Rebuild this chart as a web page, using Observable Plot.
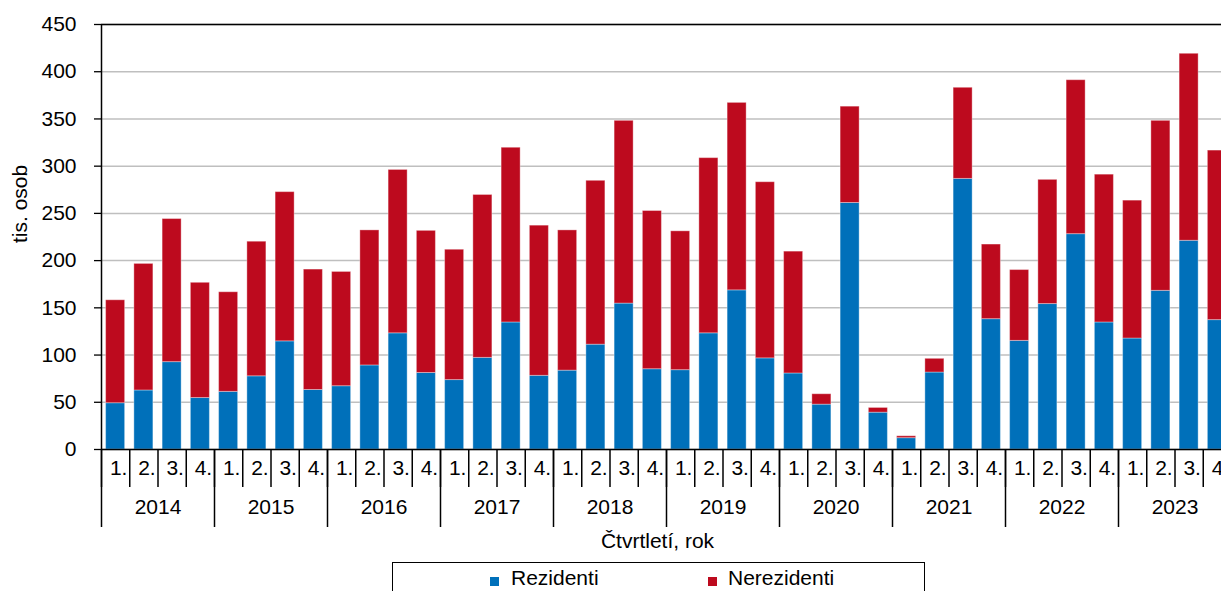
<!DOCTYPE html>
<html>
<head>
<meta charset="utf-8">
<script src="https://cdn.jsdelivr.net/npm/d3@7"></script>
<script src="https://cdn.jsdelivr.net/npm/@observablehq/plot@0.6"></script>
<style>
  html, body { margin: 0; padding: 0; background: #fff; overflow: hidden; }
  #wrap { position: relative; width: 1221px; height: 591px; overflow: hidden; font-family: 'Liberation Sans', Arial, sans-serif; }
  #chart { position: absolute; left: 0; top: 0; width: 1240px; }
  #chart svg { max-width: none !important; height: auto; display: block; }
  .legend { position: absolute; left: 392px; top: 562px; width: 533px; height: 50px; border: 1px solid #000; box-sizing: border-box; }
  .legend .sw { position: absolute; width: 9px; height: 9px; top: 14px; }
  .legend .lb { position: absolute; top: 4px; font-size: 21px; line-height: 22px; color: #000; white-space: nowrap; }
</style>
</head>
<body>
<div id="wrap">
  <div id="chart"></div>
  <div class="legend" id="legend"></div>
</div>
<script>
const years = [2014, 2015, 2016, 2017, 2018, 2019, 2020, 2021, 2022, 2023];
const quarters = ["1.", "2.", "3.", "4."];
const seriesNames = ["Rezidenti", "Nerezidenti"];
const residents = [
  49, 62.5, 92.5, 54.5,
  61, 77.5, 114.5, 63,
  67, 89, 123, 81,
  73.5, 97, 134.5, 78,
  83.5, 111, 154.5, 85,
  84, 123, 168.5, 96.5,
  80.5, 47.5, 261, 39,
  12, 81.5, 286.5, 138,
  115, 154, 228, 134.5,
  117.5, 168, 221, 137
];
const nonresidents = [
  109, 134, 151.5, 122,
  105.5, 142.5, 158, 127.5,
  121, 143, 173, 150.5,
  138, 172.5, 185, 159,
  148.5, 173.5, 193.5, 167.5,
  147, 185.5, 198.5, 186.5,
  129, 11, 102, 5,
  2, 14.5, 96.5, 79,
  75, 131.5, 163, 156.5,
  146, 180, 198, 179.5
];
const yTicks = [0, 50, 100, 150, 200, 250, 300, 350, 400, 450];
const yLabel = "tis. osob";
const xLabel = "Čtvrtletí, rok";
const colors = ["#0070BA", "#BD0A1E"];

// build table
const periods = [];
years.forEach(y => quarters.forEach(q => periods.push({year: y, q, key: y + "-" + q})));
const keys = periods.map(p => p.key);
const rows = [];
periods.forEach((p, i) => {
  rows.push({key: p.key, series: seriesNames[0], value: residents[i]});
  rows.push({key: p.key, series: seriesNames[1], value: nonresidents[i]});
});
const yearFirstKeys = periods.filter(p => p.q === quarters[0]).map(p => p.key);
const yearLabelRows = periods.filter(p => p.q === quarters[1]);

const W = 1231, H = 560, ML = 101, MR = 0, MT = 24, MB = 111;
const step = (W - ML - MR) / keys.length;
const font = "'Liberation Sans', Arial, sans-serif";
const FS = 21;

const chart = Plot.plot({
  width: W, height: H,
  marginLeft: ML, marginRight: MR, marginTop: MT, marginBottom: MB,
  style: {fontFamily: font, fontSize: FS + "px", color: "#000", background: "transparent", maxWidth: "none"},
  x: {type: "band", domain: keys, paddingInner: 0.327, paddingOuter: 0.1635, round: false, axis: null},
  y: {domain: [0, 450], axis: null},
  color: {domain: seriesNames, range: colors},
  marks: [
    Plot.gridY(yTicks, {stroke: "#bfbfbf", strokeOpacity: 1, strokeWidth: 1.5}),
    Plot.barY(rows, {x: "key", y: "value", fill: "series", stroke: "#ffffff", strokeOpacity: 0.35, strokeWidth: 1}),
    Plot.ruleY([450], {stroke: "#000", strokeWidth: 1.5}),
    Plot.ruleY([0], {stroke: "#000", strokeWidth: 1.5}),
    Plot.ruleX([keys[0]], {dx: -step / 2, stroke: "#000", strokeWidth: 1.5}),
    Plot.axisY(yTicks, {tickSize: 7, tickPadding: 18, label: null, fontSize: FS, stroke: "#000", strokeWidth: 1.3}),
    Plot.axisX(keys, {tickSize: 38, tickFormat: () => "", dx: -step / 2, label: null, stroke: "#000", strokeWidth: 1.5}),
    Plot.axisX(yearFirstKeys, {tickSize: 78, tickFormat: () => "", dx: -step / 2, label: null, stroke: "#000", strokeWidth: 1.5}),
    Plot.text(periods, {x: "key", text: "q", frameAnchor: "bottom", dy: 25, dx: 3, fontSize: FS, fill: "#000"}),
    Plot.text(yearLabelRows, {x: "key", text: d => String(d.year), frameAnchor: "bottom", dy: 64, dx: step / 2, fontSize: FS, fill: "#000"}),
    Plot.text([xLabel], {frameAnchor: "bottom", dy: 98, dx: -9, fontSize: FS, fill: "#000"}),
    Plot.text([yLabel], {frameAnchor: "left", rotate: -90, dx: -81, dy: 6, fontSize: FS, fill: "#000"})
  ]
});
document.getElementById("chart").appendChild(chart);

// legend
const legend = document.getElementById("legend");
const legendPos = [{sw: 97, lb: 118}, {sw: 315, lb: 335}];
seriesNames.forEach((name, i) => {
  const sw = document.createElement("div");
  sw.className = "sw";
  sw.style.left = legendPos[i].sw + "px";
  sw.style.background = colors[i];
  const lb = document.createElement("div");
  lb.className = "lb";
  lb.style.left = legendPos[i].lb + "px";
  lb.textContent = name;
  legend.appendChild(sw);
  legend.appendChild(lb);
});
</script>
</body>
</html>
